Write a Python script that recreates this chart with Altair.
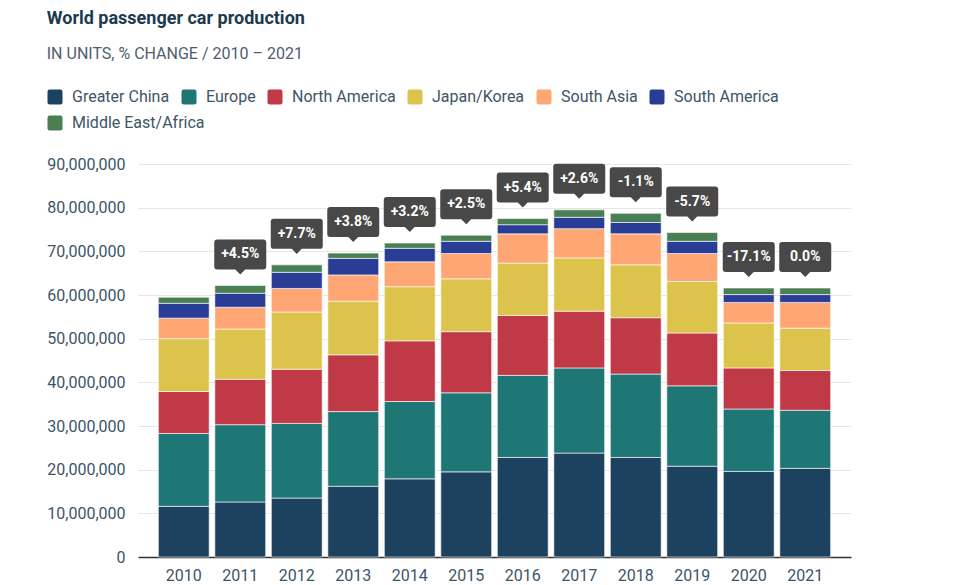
import altair as alt
import pandas as pd

years = ["2010", "2011", "2012", "2013", "2014", "2015", "2016", "2017", "2018", "2019", "2020", "2021"]
regions = ["Greater China", "Europe", "North America", "Japan/Korea", "South Asia", "South America", "Middle East/Africa"]
colors = ["#1d4260", "#1e7775", "#bf3946", "#dcc34b", "#fea674", "#293c96", "#4a7f53"]

# millions of units
greater_china = [11.6, 12.6, 13.5, 16.2, 17.9, 19.5, 22.8, 23.8, 22.8, 20.8, 19.6, 20.3]
europe = [16.7, 17.7, 17.1, 17.1, 17.7, 18.1, 18.8, 19.5, 19.1, 18.4, 14.3, 13.3]
north_america = [9.6, 10.4, 12.4, 13.0, 13.9, 14.0, 13.7, 13.0, 12.9, 12.1, 9.4, 9.1]
japan_korea = [12.1, 11.5, 13.1, 12.3, 12.4, 12.1, 12.0, 12.2, 12.1, 11.8, 10.3, 9.7]
south_asia = [4.7, 5.0, 5.4, 6.0, 5.7, 5.8, 6.7, 6.7, 7.1, 6.4, 4.7, 5.9]
south_america = [3.4, 3.2, 3.7, 3.8, 3.1, 2.8, 2.1, 2.6, 2.6, 2.8, 1.8, 1.8]
middle_east_africa = [1.4, 1.8, 1.7, 1.2, 1.2, 1.4, 1.4, 1.7, 2.1, 2.0, 1.5, 1.5]

change_years = ["2011", "2012", "2013", "2014", "2015", "2016", "2017", "2018", "2019", "2020", "2021"]
change_labels = ["+4.5%", "+7.7%", "+3.8%", "+3.2%", "+2.5%", "+5.4%", "+2.6%", "-1.1%", "-5.7%", "-17.1%", "0.0%"]

series = [greater_china, europe, north_america, japan_korea, south_asia, south_america, middle_east_africa]
rows = []
for idx, (name, vals) in enumerate(zip(regions, series)):
    for y, v in zip(years, vals):
        rows.append({"year": y, "region": name, "idx": idx, "units": v * 1_000_000})
df = pd.DataFrame(rows)

main_regions = regions[:6]
df_main = df[df["region"].isin(main_regions)]
base = df_main.groupby("year", as_index=False)["units"].sum().rename(columns={"units": "base"})
df_mea = df[df["region"] == regions[6]].merge(base, on="year")
df_mea["top"] = df_mea["base"] + df_mea["units"]

totals = df.groupby("year", as_index=False)["units"].sum()
lab = pd.DataFrame({"year": change_years, "label": change_labels}).merge(totals, on="year")

FONT = "Roboto"
TXT = "#3d5566"

x_axis = alt.Axis(labelAngle=0, labelFont=FONT, labelFontSize=16, labelColor=TXT,
                  labelPadding=10, ticks=False, domainColor="#333333", domainWidth=1.5,
                  grid=False, title=None)
x_scale = alt.Scale(paddingInner=0.1, paddingOuter=0.36)
y_axis = alt.Axis(values=list(range(0, 90_000_001, 10_000_000)), format=",.0f",
                  labelFont=FONT, labelFontSize=16, labelColor=TXT, labelPadding=13,
                  ticks=False, domain=False, gridColor="#e6e6e6", gridWidth=1, title=None)
y_scale = alt.Scale(domain=[0, 90_000_000], nice=False)

SQUARE = "M-1,-0.7Q-1,-1,-0.7,-1L0.7,-1Q1,-1,1,-0.7L1,0.7Q1,1,0.7,1L-0.7,1Q-1,1,-1,0.7Z"


def legend(y):
    return alt.Legend(title=None, orient="none", legendX=-91, legendY=y,
                      direction="horizontal",
                      symbolType=SQUARE, symbolSize=225, symbolStrokeWidth=0, symbolOpacity=1,
                      labelFont=FONT, labelFontSize=16, labelColor=TXT,
                      labelOffset=9, columnPadding=11, padding=0)


bars = alt.Chart(df_main).mark_bar(stroke="white", strokeWidth=1, strokeOpacity=0.6).encode(
    x=alt.X("year:N", sort=years, scale=x_scale, axis=x_axis),
    y=alt.Y("units:Q", stack="zero", scale=y_scale, axis=y_axis),
    color=alt.Color("region:N", scale=alt.Scale(domain=main_regions, range=colors[:6]),
                    legend=legend(-75)),
    order=alt.Order("idx:Q", sort="ascending"),
)

bars_mea = alt.Chart(df_mea).mark_bar(stroke="white", strokeWidth=1, strokeOpacity=0.6).encode(
    x=alt.X("year:N", sort=years, scale=x_scale, axis=x_axis),
    y=alt.Y("base:Q", scale=y_scale, axis=y_axis),
    y2="top:Q",
    color=alt.Color("region:N", scale=alt.Scale(domain=[regions[6]], range=[colors[6]]),
                    legend=legend(-49)),
)

callout_path = ("M-0.885,-0.577L0.885,-0.577Q1,-0.577,1,-0.462L1,0.462Q1,0.577,0.885,0.577"
                "L0.19,0.577L0,0.77L-0.19,0.577L-0.885,0.577Q-1,0.577,-1,0.462L-1,-0.462"
                "Q-1,-0.577,-0.885,-0.577Z")

boxes = alt.Chart(lab).mark_point(shape=callout_path, size=2704, filled=True, opacity=1,
                                  color="#484848", yOffset=-31, strokeWidth=0).encode(
    x=alt.X("year:N", sort=years, scale=x_scale, axis=x_axis),
    y=alt.Y("units:Q", scale=y_scale, axis=y_axis),
)

texts = alt.Chart(lab).mark_text(font=FONT, fontSize=14, fontWeight="bold", color="white",
                                 baseline="middle", align="center", yOffset=-31).encode(
    x=alt.X("year:N", sort=years, scale=x_scale, axis=x_axis),
    y=alt.Y("units:Q", scale=y_scale, axis=y_axis),
    text="label:N",
)

chart = alt.layer(bars, bars_mea, boxes, texts).resolve_scale(color="independent").properties(
    width=713, height=393,
    padding={"left": 38, "top": 2, "right": 5, "bottom": 3},
    title=alt.TitleParams(text="World passenger car production",
                          subtitle="IN UNITS, % CHANGE / 2010 – 2021",
                          anchor="start", frame="bounds",
                          font=FONT, fontSize=18, fontWeight="bold", color="#1b3a4f",
                          subtitleFont=FONT, subtitleFontSize=16, subtitleColor="#4d6070",
                          subtitlePadding=18, offset=27),
).configure_view(stroke=None)

chart.save("out.html", embed_options={"renderer": "svg", "actions": False})
